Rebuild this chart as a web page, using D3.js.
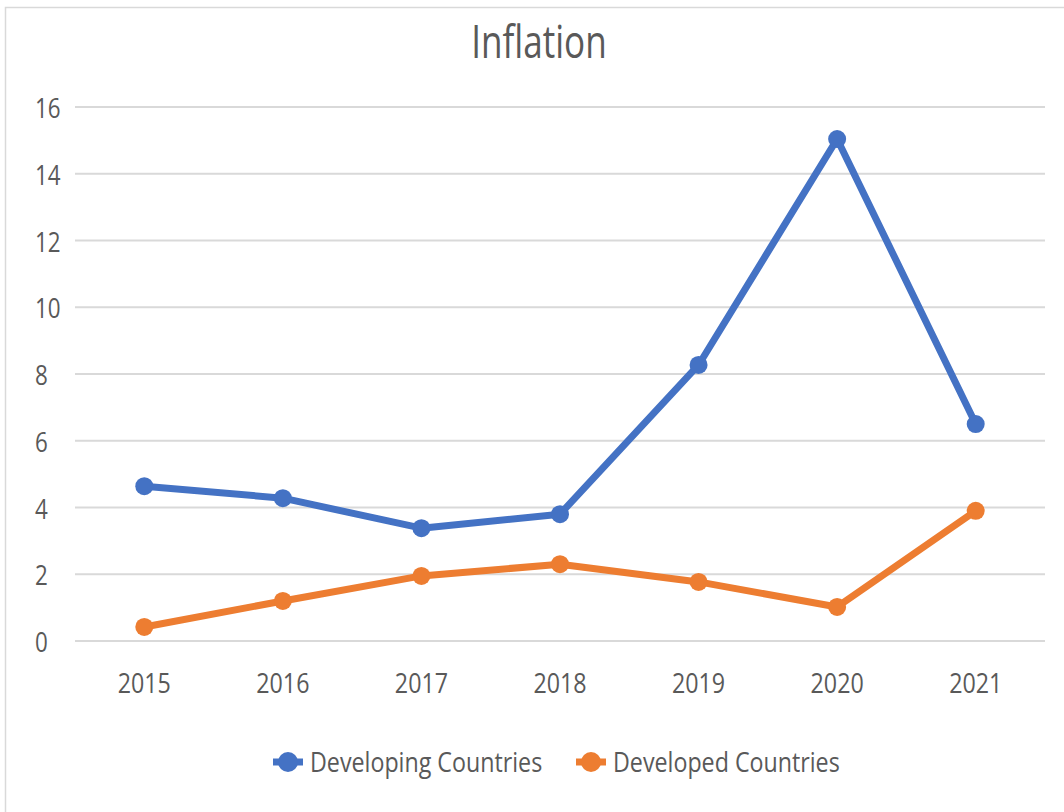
<!DOCTYPE html>
<html>
<head>
<meta charset="utf-8">
<script src="https://cdn.jsdelivr.net/npm/d3@7"></script>
<style>
  html, body { margin: 0; padding: 0; background: #fff; }
  #chart { width: 1064px; height: 812px; }
</style>
</head>
<body>
<div id="chart"></div>
<script>
const years = ["2015", "2016", "2017", "2018", "2019", "2020", "2021"];
const developing = [4.64, 4.28, 3.38, 3.8, 8.27, 15.04, 6.5];
const developed = [0.42, 1.2, 1.95, 2.3, 1.77, 1.02, 3.9];
const yTicks = [0, 2, 4, 6, 8, 10, 12, 14, 16];
const seriesNames = ["Developing Countries", "Developed Countries"];

(function() {
  const width = 1064;
  const height = 812;
  const textColor = "#595959";
  const colors = ["#4472C4", "#ED7D31"];
  const font = "'Open Sans', sans-serif";

  const svg = d3.select("#chart")
    .append("svg")
    .attr("width", width)
    .attr("height", height);

  // chart frame
  svg.append("rect")
    .attr("x", 5.5).attr("y", 7.5)
    .attr("width", 1070).attr("height", 820)
    .attr("fill", "none")
    .attr("stroke", "#d9d9d9")
    .attr("stroke-width", 1.5);

  const x = d3.scalePoint().domain(years).range([75, 1045]).padding(0.5);
  const y = d3.scaleLinear().domain([0, 16]).range([641, 107]);

  // squeezed text helper (the source font is narrow)
  const addText = (sel, tx, ty, str, size, anchor, sx) => {
    sel.append("text")
      .attr("transform", `translate(${tx},${ty}) scale(${sx},1)`)
      .attr("text-anchor", anchor)
      .style("font-family", font)
      .style("font-size", size + "px")
      .style("fill", textColor)
      .text(str);
  };

  addText(svg, 539, 58, "Inflation", 45, "middle", 0.78);

  // gridlines
  svg.append("g")
    .selectAll("line")
    .data(yTicks)
    .join("line")
    .attr("x1", 75).attr("x2", 1045)
    .attr("y1", d => y(d)).attr("y2", d => y(d))
    .attr("stroke", "#d9d9d9")
    .attr("stroke-width", 2);

  const yLab = svg.append("g");
  yTicks.forEach(t => addText(yLab, 35, y(t) + 11, String(t), 28, "start", 0.8));

  const xLab = svg.append("g");
  years.forEach(yr => addText(xLab, x(yr), 693, yr, 28, "middle", 0.83));

  const series = [developing, developed];
  const line = d3.line().x((d, i) => x(years[i])).y(d => y(d));

  series.forEach((vals, s) => {
    svg.append("path")
      .datum(vals)
      .attr("d", line)
      .attr("fill", "none")
      .attr("stroke", colors[s])
      .attr("stroke-width", 7)
      .attr("stroke-linejoin", "round");

    svg.append("g")
      .selectAll("circle")
      .data(vals)
      .join("circle")
      .attr("cx", (d, i) => x(years[i]))
      .attr("cy", d => y(d))
      .attr("r", 9)
      .attr("fill", colors[s]);
  });

  // legend
  const legendX = [288, 591];
  seriesNames.forEach((name, s) => {
    const g = svg.append("g");
    g.append("line")
      .attr("x1", legendX[s] - 15).attr("x2", legendX[s] + 15)
      .attr("y1", 762).attr("y2", 762)
      .attr("stroke", colors[s]).attr("stroke-width", 7);
    g.append("circle")
      .attr("cx", legendX[s]).attr("cy", 762).attr("r", 10)
      .attr("fill", colors[s]);
    addText(g, legendX[s] + 22, 772, name, 28, "start", 0.83);
  });
})();
</script>
</body>
</html>
